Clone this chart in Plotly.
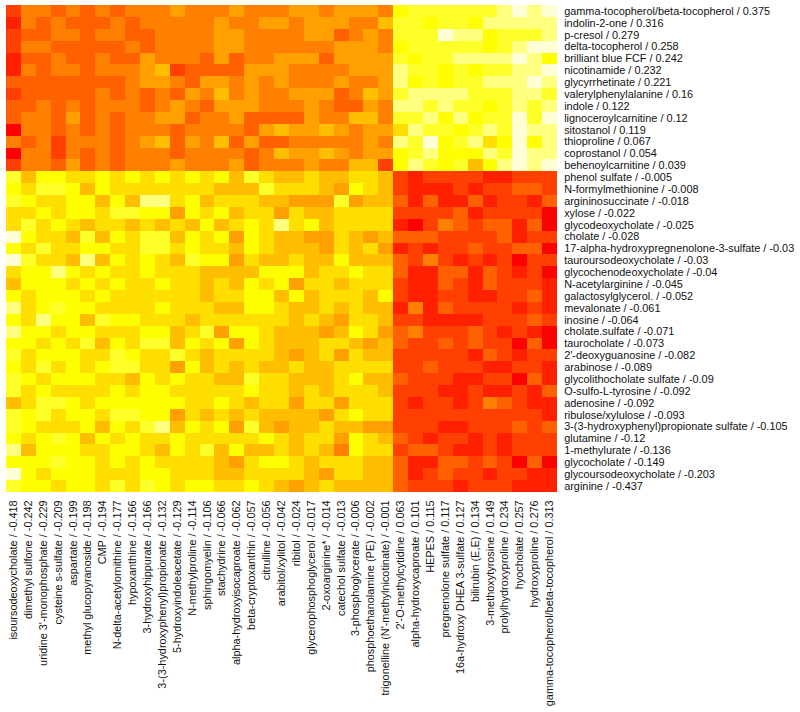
import plotly.graph_objects as go

# column metabolites and their scores, left to right
col_names = ["isoursodeoxycholate", "dimethyl sulfone", "uridine 3'-monophosphate", "cysteine s-sulfate",
             "aspartate", "methyl glucopyranoside", "CMP", "N-delta-acetylornithine", "hypoxanthine",
             "3-hydroxyhippurate", "3-(3-hydroxyphenyl)propionate", "5-hydroxyindoleacetate", "N-methylproline",
             "sphingomyelin", "stachydrine", "alpha-hydroxyisocaproate", "beta-cryptoxanthin", "citrulline",
             "arabitol/xylitol", "ribitol", "glycerophosphoglycerol", "2-oxoarginine*", "catechol sulfate",
             "3-phosphoglycerate", "phosphoethanolamine (PE)", "trigonelline (N'-methylnicotinate)",
             "2'-O-methylcytidine", "alpha-hydroxycaproate", "HEPES", "pregnenolone sulfate",
             "16a-hydroxy DHEA 3-sulfate", "bilirubin (E,E)", "3-methoxytyrosine", "prolylhydroxyproline",
             "hyocholate", "hydroxyproline", "gamma-tocopherol/beta-tocopherol"]
col_scores = ["-0.418", "-0.242", "-0.229", "-0.209", "-0.199", "-0.198", "-0.194", "-0.177", "-0.166", "-0.166",
              "-0.132", "-0.129", "-0.114", "-0.106", "-0.066", "-0.062", "-0.057", "-0.056", "-0.042", "-0.024",
              "-0.017", "-0.014", "-0.013", "-0.006", "-0.002", "-0.001", "0.063", "0.101", "0.115", "0.117",
              "0.127", "0.134", "0.149", "0.234", "0.257", "0.276", "0.313"]

# row metabolites and their scores, top to bottom
row_names = ["gamma-tocopherol/beta-tocopherol", "indolin-2-one", "p-cresol", "delta-tocopherol",
             "brilliant blue FCF", "nicotinamide", "glycyrrhetinate", "valerylphenylalanine", "indole",
             "lignoceroylcarnitine", "sitostanol", "thioproline", "coprostanol", "behenoylcarnitine",
             "phenol sulfate", "N-formylmethionine", "argininosuccinate", "xylose", "glycodeoxycholate", "cholate",
             "17-alpha-hydroxypregnenolone-3-sulfate", "tauroursodeoxycholate", "glycochenodeoxycholate",
             "N-acetylarginine", "galactosylglycerol.", "mevalonate", "inosine", "cholate.sulfate", "taurocholate",
             "2'-deoxyguanosine", "arabinose", "glycolithocholate sulfate", "O-sulfo-L-tyrosine", "adenosine",
             "ribulose/xylulose", "3-(3-hydroxyphenyl)propionate sulfate", "glutamine", "1-methylurate",
             "glycocholate", "glycoursodeoxycholate", "arginine"]
row_scores = ["0.375", "0.316", "0.279", "0.258", "0.242", "0.232", "0.221", "0.16", "0.122", "0.12", "0.119",
              "0.067", "0.054", "0.039", "-0.005", "-0.008", "-0.018", "-0.022", "-0.025", "-0.028", "-0.03", "-0.03",
              "-0.04", "-0.045", "-0.052", "-0.061", "-0.064", "-0.071", "-0.073", "-0.082", "-0.089", "-0.09",
              "-0.092", "-0.092", "-0.093", "-0.105", "-0.12", "-0.136", "-0.149", "-0.203", "-0.437"]

# 12 step heat palette, index = level
heat_colors = ["#FF0000", "#FF2000", "#FF4000", "#FF6000", "#FF8000", "#FF9F00",
               "#FFBF00", "#FFDF00", "#FFFF00", "#FFFF2A", "#FFFF80", "#FFFFD5"]

# colour level of each cell
levels = [
    [2,4,4,3,4,3,4,3,4,4,4,5,4,4,4,5,4,4, 4,5,5,4,5,5,5,4, 8,9,9,9,9,9,9,10,11,10,11],
    [1,4,3,4,3,3,3,4,3,4,4,4,4,4,5,4,4,5, 5,4,5,5,5,4,4,6, 9,9,8,9,9,8,10,10,10,10,10],
    [2,3,3,4,4,3,4,4,3,3,4,4,4,4,5,5,4,4, 4,4,5,5,3,4,5,4, 9,9,9,11,10,10,8,9,9,9,10],
    [2,4,4,3,3,3,3,3,4,3,4,4,4,4,5,5,4,4, 4,4,4,4,5,5,5,4, 8,9,9,9,9,9,8,9,10,11,11],
    [1,3,3,4,3,3,4,3,3,5,4,4,4,3,5,3,4,4, 5,5,5,3,5,5,5,5, 9,8,9,9,10,10,10,10,11,10,8],
    [1,4,3,4,4,3,4,4,4,5,6,2,3,3,3,3,5,5, 5,4,4,4,4,5,5,5, 10,9,9,8,9,8,9,9,10,10,11],
    [3,3,3,3,3,3,3,3,4,5,5,4,3,5,5,4,5,4, 5,4,4,4,5,4,4,5, 10,8,9,8,9,9,10,10,10,11,10],
    [2,3,3,3,3,3,4,3,4,3,4,3,5,4,6,4,5,4, 4,5,5,5,3,4,6,5, 9,10,10,10,10,9,9,9,10,10,9],
    [3,3,4,3,4,3,4,4,4,3,4,5,4,3,5,5,5,4, 4,4,5,4,3,3,5,4, 10,10,9,10,9,9,8,9,10,9,10],
    [3,4,4,3,5,3,4,3,4,4,5,5,3,4,4,5,3,3, 3,3,5,4,4,6,6,4, 9,9,10,8,10,8,9,9,11,9,11],
    [0,4,4,3,4,3,4,3,4,4,4,3,4,4,4,4,3,5, 6,5,5,6,5,4,5,5, 7,10,9,9,8,9,10,9,11,10,10],
    [4,3,4,2,4,4,4,3,4,5,6,3,5,4,6,3,5,3, 3,4,4,4,4,4,5,4, 10,9,11,8,9,10,7,8,11,8,10],
    [0,4,4,2,4,3,4,3,4,4,4,3,4,4,4,4,3,4, 6,5,5,6,5,4,5,5, 8,9,10,8,8,8,10,9,11,10,10],
    [2,4,4,3,5,3,4,3,4,4,4,5,4,4,4,5,3,4, 4,4,5,4,4,6,6,2, 8,10,9,8,9,6,8,10,11,10,11],
    [9,6,8,8,7,7,8,7,8,7,8,7,8,7,8,6,9,7, 6,6,7,6,6,7,7,6, 2,1,2,2,2,2,1,1,2,2,2],
    [8,7,9,9,8,6,8,7,7,7,7,7,7,7,6,6,6,9, 7,7,7,6,5,8,7,6, 2,1,1,1,2,1,2,2,3,3,2],
    [9,8,7,7,8,8,6,8,6,10,10,7,8,6,7,7,7,6, 6,5,5,5,9,5,6,6, 3,1,3,1,1,3,1,2,2,1,3],
    [7,7,8,7,8,8,7,9,9,8,8,5,8,7,8,6,7,7, 5,7,6,6,7,7,7,7, 2,2,2,2,3,1,2,2,2,2,0],
    [7,9,7,8,7,6,7,7,6,7,6,7,6,8,6,7,8,7, 10,7,8,6,7,7,7,7, 1,0,2,4,3,2,3,3,1,3,0],
    [11,8,7,7,6,9,6,8,7,9,9,6,8,7,8,5,8,7, 6,6,5,5,7,6,5,6, 3,3,3,2,2,2,2,3,1,2,2],
    [8,7,9,7,7,8,8,7,7,9,9,7,8,7,7,6,8,7, 6,6,6,5,7,6,7,5, 1,2,1,2,2,3,2,2,3,3,0],
    [11,9,7,7,6,10,6,8,7,8,7,6,9,8,8,5,7,6, 6,7,6,6,8,6,6,6, 3,2,4,2,1,2,1,2,0,2,2],
    [7,8,8,10,8,7,8,7,7,8,7,7,7,6,6,6,6,8, 8,8,6,7,7,8,7,7, 3,1,1,3,3,1,3,2,1,2,0],
    [6,8,8,8,7,8,7,8,7,7,8,7,7,6,7,6,8,7, 8,5,7,7,6,7,7,7, 2,1,1,3,2,1,3,2,2,2,1],
    [8,7,8,8,8,7,8,7,7,7,7,7,7,6,7,7,8,8, 6,8,6,7,7,7,6,8, 2,1,1,2,2,1,1,2,2,3,1],
    [10,7,8,9,8,8,7,7,7,7,8,7,7,7,6,6,8,8, 7,6,6,7,6,7,6,6, 1,4,1,3,2,2,2,2,1,2,1],
    [8,7,10,8,8,6,9,8,8,7,7,7,6,7,7,7,7,7, 7,6,7,6,5,7,7,6, 2,2,1,1,1,1,2,2,2,3,2],
    [10,8,8,7,8,8,7,7,7,8,8,6,7,9,5,8,8,7, 6,6,6,5,6,8,7,5, 3,4,2,2,2,3,2,1,2,1,0],
    [8,8,7,8,7,9,6,8,7,9,9,6,8,7,8,5,8,7, 6,6,6,7,7,6,5,6, 3,2,2,3,2,3,2,2,0,3,0],
    [9,7,8,8,8,7,7,9,8,7,7,9,7,6,7,7,7,7, 6,5,6,7,5,7,6,6, 2,2,2,2,2,1,3,2,1,2,2],
    [8,7,9,7,8,7,8,9,9,7,7,5,8,6,7,6,7,6, 6,7,6,6,7,7,7,7, 2,2,3,2,2,2,1,1,2,2,1],
    [9,8,7,8,8,8,7,7,6,8,7,8,7,7,6,6,9,7, 7,6,6,6,7,8,6,6, 3,2,2,2,1,1,2,2,0,3,1],
    [9,7,8,7,7,7,7,8,7,8,8,7,7,7,7,7,8,7, 7,6,7,6,7,7,7,6, 2,2,2,1,1,2,1,1,2,1,3],
    [6,7,9,9,8,7,8,8,8,8,8,8,7,7,8,7,6,7, 7,5,7,7,5,7,7,7, 2,1,2,2,1,2,4,3,2,1,1],
    [9,8,9,7,8,8,7,9,9,8,8,5,7,6,7,6,7,6, 6,6,6,5,7,8,7,7, 2,2,2,2,2,2,2,2,2,2,1],
    [9,8,7,7,7,8,6,8,7,9,10,6,8,7,8,5,9,6, 5,6,6,7,6,6,5,5, 2,2,2,1,1,2,2,2,3,2,3],
    [8,7,8,9,8,6,8,7,8,7,7,8,7,7,7,7,7,8, 7,6,7,7,5,8,7,6, 3,2,1,2,2,1,2,1,2,2,2],
    [10,6,8,8,8,7,7,8,8,7,6,8,7,9,6,8,6,6, 7,6,7,6,4,8,7,7, 2,3,3,2,1,1,2,1,2,2,2],
    [8,8,8,9,8,8,7,8,7,8,7,7,7,7,6,5,7,8, 8,7,6,7,7,7,6,6, 3,1,1,3,3,2,3,2,0,3,0],
    [11,8,7,8,8,8,7,7,7,8,8,7,7,7,6,6,7,7, 7,7,6,5,7,7,6,6, 3,1,2,3,2,2,1,2,2,1,1],
    [9,8,8,7,8,8,7,9,7,9,8,7,8,8,7,7,8,7, 6,5,6,7,6,6,6,6, 3,2,2,2,1,2,2,2,1,1,1],
]

col_labels = [n + " / " + s for n, s in zip(col_names, col_scores)]
row_labels = [n + " / " + s for n, s in zip(row_names, row_scores)]

colorscale = [[i / (len(heat_colors) - 1), c] for i, c in enumerate(heat_colors)]

fig = go.Figure(go.Heatmap(z=levels, x=col_labels, y=row_labels, colorscale=colorscale,
                           zmin=0, zmax=len(heat_colors) - 1, showscale=False, xgap=0, ygap=0))

fig.update_xaxes(type="category", dtick=1, tickangle=-90, showgrid=False, zeroline=False,
                 ticks="outside", ticklen=3, tickcolor="rgba(0,0,0,0)", automargin=False)
fig.update_yaxes(type="category", dtick=1, side="right", autorange="reversed", showgrid=False, zeroline=False,
                 ticks="outside", ticklen=4, tickcolor="rgba(0,0,0,0)", automargin=False)
fig.update_layout(width=800, height=712, paper_bgcolor="white", plot_bgcolor="white",
                  margin=dict(l=6, r=243, t=5, b=220),
                  font=dict(family="Liberation Sans", size=10.9, color="#111111"))
# the page's default body margin would push the figure 8px off the corner
fig.write_html("out.html", config={"displayModeBar": False},
               post_script="document.body.style.margin='0';")
